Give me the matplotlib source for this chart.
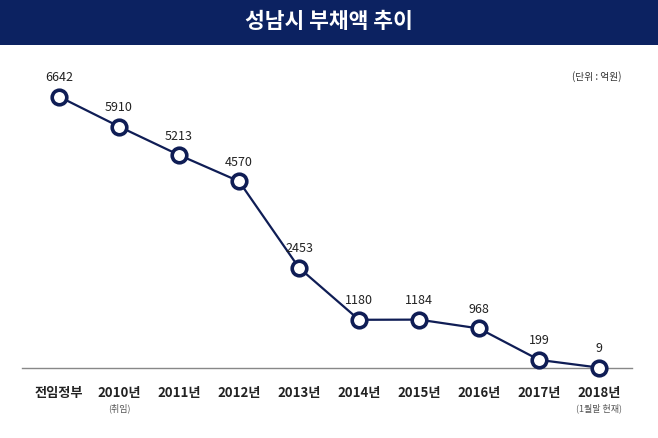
import matplotlib
matplotlib.use("Agg")
import matplotlib.pyplot as plt
from matplotlib.patches import Rectangle

plt.rcParams['font.family'] = ['Noto Sans CJK KR', 'DejaVu Sans']

categories = ['전임정부', '2010년', '2011년', '2012년', '2013년', '2014년', '2015년', '2016년', '2017년', '2018년']
sublabels = ['', '(취임)', '', '', '', '', '', '', '', '(1월말 현재)']
values = [6642, 5910, 5213, 4570, 2453, 1180, 1184, 968, 199, 9]
title = '성남시 부채액 추이'
unit = '(단위 : 억원)'

W, H = 658, 438
fig = plt.figure(figsize=(W/100, H/100), dpi=100)
fig.patch.set_facecolor('white')

# header band
fig.patches.append(Rectangle((0, 1 - 45/H), 1, 45/H, transform=fig.transFigure,
                             facecolor='#0c2261', edgecolor='none', zorder=0))
fig.text(0.5, 1 - 22/H, title, color='white', fontsize=15.5, fontweight='bold',
         ha='center', va='center')
fig.text(622/W, 1 - 77/H, unit, color='#333333', fontsize=7, ha='right', va='center')

# axes geometry
ax_left, ax_right = 22, 632
ax_bottom_px, ax_top_px = 368, 60
ax = fig.add_axes([ax_left/W, 1 - ax_bottom_px/H, (ax_right-ax_left)/W, (ax_bottom_px-ax_top_px)/H])
ax.set_facecolor('none')
px_per_unit = (367 - 96) / (6642 - 9)
ax.set_ylim(0, (ax_bottom_px - ax_top_px) / px_per_unit)
x0 = 59
step = 60
ax.set_xlim(-(x0 - ax_left)/step, 9 + (ax_right - (x0 + 9*step))/step)

xs = list(range(len(values)))
navy = '#0f1d55'
ax.plot(xs, values, color=navy, lw=1.6, zorder=2)
ax.plot(xs, values, 'o', ms=10.5, mfc='white', mec=navy, mew=2.6, zorder=3, clip_on=False)

for x, v in zip(xs, values):
    ax.annotate(f'{v}', (x, v), xytext=(0, 9), textcoords='offset points',
                ha='center', va='bottom', fontsize=9, color='#222222')

for s in ['top', 'right', 'left']:
    ax.spines[s].set_visible(False)
ax.spines['bottom'].set_color('#888888')
ax.spines['bottom'].set_linewidth(1.0)
ax.set_yticks([])
ax.set_xticks(xs)
ax.set_xticklabels(categories, fontsize=9.5, fontweight='bold', color='#222222')
ax.tick_params(axis='x', length=0, pad=13)

for x, s in zip(xs, sublabels):
    if s:
        ax.annotate(s, (x, 0), xytext=(0, -29), textcoords='offset points',
                    ha='center', va='center', fontsize=6.5, color='#555555',
                    annotation_clip=False)

fig.savefig('out.png', dpi=100)
